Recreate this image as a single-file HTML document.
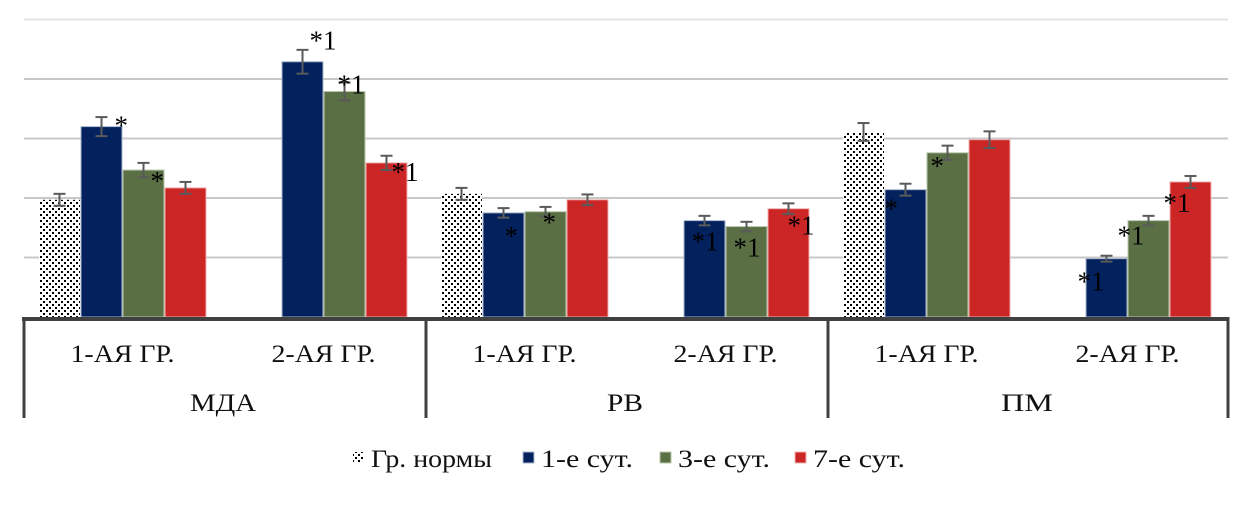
<!DOCTYPE html>
<html><head><meta charset="utf-8">
<style>
html,body{margin:0;padding:0;background:#fff;}
svg{display:block;font-family:"Liberation Serif","DejaVu Serif",serif;}
</style></head>
<body>
<svg id="chart" width="1258" height="513" viewBox="0 0 1258 513" xmlns="http://www.w3.org/2000/svg">
<defs>
<pattern id="dots" width="6" height="6" patternUnits="userSpaceOnUse">
<rect width="6" height="6" fill="#fff"/>
<rect x="1" y="1" width="2" height="2" fill="#000"/>
<rect x="4" y="4" width="2" height="2" fill="#000"/>
</pattern>
</defs>
<g id="grid"></g>
<g id="bars"></g>
<g id="axis"></g>
<g id="legend"></g>
</svg>
<script>
const groups = ["МДА","РВ","ПМ"];
const subGroups = ["1-АЯ ГР.","2-АЯ ГР."];
const seriesNames = ["Гр. нормы","1-е сут.","3-е сут.","7-е сут."];
const normVals = [1.97, null, 2.07, null, 3.11, null];
const day1Vals = [3.20, 4.29, 1.75, 1.62, 2.14, 0.98];
const day3Vals = [2.47, 3.79, 1.77, 1.52, 2.76, 1.62];
const day7Vals = [2.17, 2.59, 1.97, 1.82, 2.98, 2.27];
const normErr = [0.10, null, 0.10, null, 0.15, null];
const day1Err = [0.16, 0.20, 0.08, 0.08, 0.10, 0.05];
const day3Err = [0.12, 0.15, 0.08, 0.08, 0.12, 0.08];
const day7Err = [0.10, 0.12, 0.09, 0.09, 0.14, 0.10];
const annNorm = ["","","","","",""];
const annDay1 = ["*","*1","*","*1","*","*1"];
const annDay3 = ["*","*1","*","*1","*","*1"];
const annDay7 = ["","*1","","*1","","*1"];
const gridTicks = [0,1,2,3,4,5];

const X0=22, X1=1228, BASE=317, UNIT=59.5, BW=42;
const catW=(X1-X0)/6;
const yS=v=>BASE-v*UNIT;
const catC=i=>X0+catW*(i+0.5);
const NS="http://www.w3.org/2000/svg";
function mk(tag,attrs,parent,text){const e=document.createElementNS(NS,tag);for(const k in attrs)e.setAttribute(k,attrs[k]);if(text!==undefined)e.textContent=text;parent.appendChild(e);return e;}

const annOff = {
 1:[[34,8],[28,-12],[22,32],[8,30],[0,28],[-8,32]],
 2:[[28,20],[14,2],[18,20],[8,30],[4,22],[-10,24]],
 3:[[0,0],[26,18],[0,0],[20,26],[0,0],[-6,30]]
};

const grid=document.getElementById('grid');
gridTicks.forEach(t=>{ if(t===0)return;
 const l=mk('line',{x1:X0+2,x2:X1,y1:yS(t),y2:yS(t),stroke:t===5?'#e6e6e6':'#c8c8c8','stroke-width':2},grid);
 
 
});

const series=[
 {vals:normVals,err:normErr,ann:annNorm,fill:'url(#dots)',stroke:'none',name:'norm'},
 {vals:day1Vals,err:day1Err,ann:annDay1,fill:'#02215d',stroke:'#a9b6cc',name:'day1'},
 {vals:day3Vals,err:day3Err,ann:annDay3,fill:'#5a7044',stroke:'#b9c7ad',name:'day3'},
 {vals:day7Vals,err:day7Err,ann:annDay7,fill:'#cb2525',stroke:'#f0b0b0',name:'day7'}
];
const bars=document.getElementById('bars');
series.forEach((s,si)=>{
 s.vals.forEach((v,i)=>{
  if(v===null)return;
  const x=catC(i)-2*BW+si*BW, y=yS(v);
  const r=mk('rect',{x:x+0.5,y:y,width:BW-1,height:BASE-y,fill:s.fill,stroke:s.stroke,'stroke-width':1},bars);
  
  
  const cx=x+BW/2, e=s.err[i];
  const g=mk('g',{stroke:'#5a5a5a','stroke-width':2},bars);
  
  
  mk('line',{x1:cx,x2:cx,y1:yS(v+e),y2:yS(v-e)},g);
  mk('line',{x1:cx-6,x2:cx+6,y1:yS(v+e),y2:yS(v+e)},g);
  mk('line',{x1:cx-6,x2:cx+6,y1:yS(v-e),y2:yS(v-e)},g);
  const a=s.ann[i];
  if(a){
   const o=annOff[si][i];
   const t=mk('text',{x:x+o[0],y:y+o[1],'font-size':27,fill:'#000'},bars,a);
   
   
  }
 });
});

const axis=document.getElementById('axis');
const base=mk('line',{x1:X0,x2:X1+1,y1:BASE+2,y2:BASE+2,stroke:'#404040','stroke-width':4},axis);


for(let k=0;k<=3;k++){
 const xx=X0+2+k*catW*2 - (k===3?2:0);
 const d=mk('line',{x1:xx,x2:xx,y1:BASE,y2:418,stroke:'#404040','stroke-width':3},axis);
 
 
}
for(let i=0;i<6;i++){
 const t=mk('text',{x:catC(i),y:362,'font-size':25,'text-anchor':'middle',fill:'#111',textLength:104,lengthAdjust:'spacingAndGlyphs'},axis,subGroups[i%2]);
 
 
}
const gW=[66,36,52];
groups.forEach((g,k)=>{
 const t=mk('text',{x:X0+catW*(2*k+1),y:411,'font-size':25,'text-anchor':'middle',fill:'#111',textLength:gW[k],lengthAdjust:'spacingAndGlyphs'},axis,g);
 
 
});

const legend=document.getElementById('legend');
const lx=[353,523,660,795];
const lw=[121,92,92,92];
const lfill=['url(#dots)','#02215d','#5a7044','#cb2525'];
const lstroke=['none','#a9b6cc','#b9c7ad','#f0b0b0'];
seriesNames.forEach((n,i)=>{
 const g=mk('g',{},legend);
 
 
 mk('rect',{x:lx[i],y:452,width:11,height:11,fill:lfill[i],stroke:lstroke[i]},g);
 mk('text',{x:lx[i]+18,y:467,'font-size':25,fill:'#111',textLength:lw[i],lengthAdjust:'spacingAndGlyphs'},g,n);
});
</script>
</body></html>
